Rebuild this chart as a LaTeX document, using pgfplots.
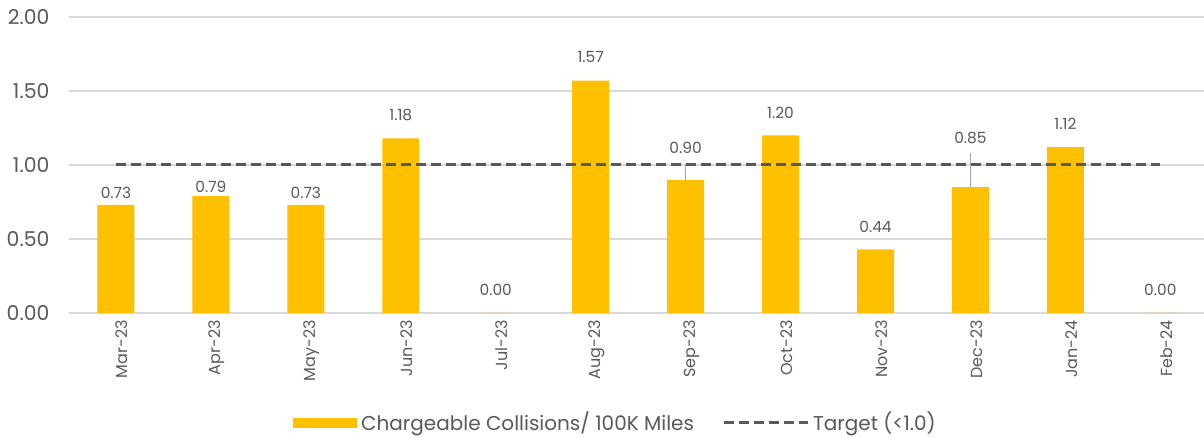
\documentclass[border=0pt]{standalone}
\usepackage{fontspec}
\setmainfont{Poppins}
\usepackage{pgfplots}
\pgfplotsset{compat=1.18}
\definecolor{baryellow}{HTML}{FFC000}
\definecolor{gridgray}{HTML}{D9D9D9}
\definecolor{txtgray}{HTML}{595959}
\definecolor{leadgray}{HTML}{A6A6A6}
\begin{document}
\begin{tikzpicture}
\path[use as bounding box] (0,0) rectangle (602pt,219pt);
\begin{axis}[
  at={(34.25pt,62.5pt)}, anchor=south west,
  scale only axis, width=567.75pt, height=148pt,
  xmin=-0.5, xmax=11.46, ymin=0, ymax=2,
  axis line style={draw=none},
  axis x line*=bottom,
  x axis line style={draw=gridgray, line width=0.8pt},
  ytick={0,0.5,1,1.5,2},
  /pgf/number format/fixed, /pgf/number format/fixed zerofill, /pgf/number format/precision=2,
  /pgf/number format/assume math mode=true,
  yticklabel style={font=\fontsize{10.2}{12}\selectfont, text=txtgray, xshift=-6pt},
  ymajorgrids, grid style={draw=gridgray, line width=0.8pt},
  major tick length=0pt,
  xtick={0,...,11},
  xticklabels={Mar-23,Apr-23,May-23,Jun-23,Jul-23,Aug-23,Sep-23,Oct-23,Nov-23,Dec-23,Jan-24,Feb-24},
  xticklabel style={rotate=90, anchor=east, font=\fontsize{8}{9.5}\selectfont, text=txtgray, yshift=-3pt},
  legend style={at={(0.4826,-0.3716)}, anchor=center, draw=none, font=\fontsize{10}{12}\selectfont, text=txtgray, legend columns=2, /tikz/every even column/.append style={column sep=12pt}},
  clip=false,
]
\addplot[ybar, bar width=18.5pt, fill=baryellow, draw=none,
  legend image code/.code={\fill[baryellow] (0pt,-2.5pt) rectangle (32pt,2.5pt);}]
  coordinates {(0,0.73) (1,0.79) (2,0.73) (3,1.18) (4,0) (5,1.57) (6,0.90) (7,1.20) (8,0.43) (9,0.85) (10,1.12) (11,0)};
\addlegendentry{Chargeable Collisions/ 100K Miles}
\addplot[leadgray, line width=0.6pt, forget plot] coordinates {(6,0.90) (6,1.01)};
\addplot[leadgray, line width=0.6pt, forget plot] coordinates {(9,0.85) (9,1.08)};
\addplot[txtgray, line width=1.5pt, dash pattern=on 5pt off 2.5pt,
  legend image code/.code={\draw[txtgray, line width=1.5pt, dash pattern=on 5pt off 2.5pt] (0pt,0pt) -- (42pt,0pt);}]
  coordinates {(0,1) (11,1)};
\addlegendentry{Target (<1.0)}
\addplot[only marks, mark=none, forget plot, point meta=explicit symbolic,
  nodes near coords, nodes near coords style={anchor=center, font=\fontsize{7.7}{9}\selectfont, text=txtgray}]
  coordinates {(0,0.81)[0.73] (1,0.85)[0.79] (2,0.81)[0.73] (3,1.34)[1.18] (4,0.155)[0.00] (5,1.73)[1.57] (6,1.115)[0.90] (7,1.35)[1.20] (8,0.58)[0.44] (9,1.18)[0.85] (10,1.28)[1.12] (11,0.155)[0.00]};
\end{axis}
\end{tikzpicture}
\end{document}
